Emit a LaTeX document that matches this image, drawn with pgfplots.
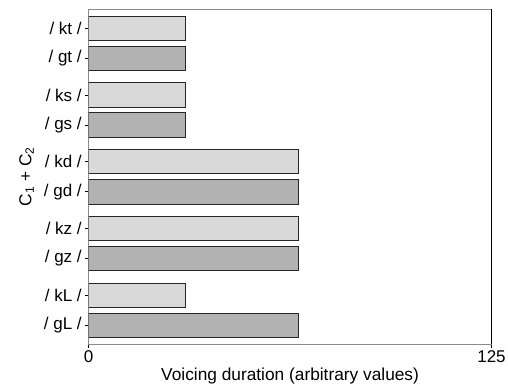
\documentclass[border=0pt]{standalone}
\usepackage{pgfplots}
\pgfplotsset{compat=1.18}
\usepackage{fontspec}
\setmainfont{Liberation Sans}
\definecolor{lightbar}{HTML}{D9D9D9}
\definecolor{darkbar}{HTML}{B2B2B2}
\definecolor{axgray}{HTML}{8A8A8A}
\begin{document}
\begin{tikzpicture}
\useasboundingbox (-88.7pt,-43pt) rectangle (419.3pt,344pt);
\begin{axis}[
  at={(0,0)}, anchor=south west,
  scale only axis,
  width=402.8pt, height=335pt,
  xbar, bar shift=0pt, bar width=0.81,
  xmin=0, xmax=125,
  ymin=-0.64, ymax=10.5,
  y dir=reverse,
  xtick={0,125},
  ytick={0,1,2.22,3.22,4.44,5.44,6.66,7.66,8.88,9.88},
  yticklabels={/ kt /, / gt /, / ks /, / gs /, / kd /, / gd /, / kz /, / gz /, / kL /, / gL /},
  tick align=outside,
  major tick length=3.5pt,
  tick style={black, line width=0.7pt},
  xtick pos=bottom, ytick pos=left,
  axis line style={axgray, line width=0.9pt},
  every tick label/.append style={font=\fontsize{17}{19}\selectfont},
  yticklabel style={xshift=0pt},
  /pgf/number format/assume math mode=true,
  xlabel={Voicing duration (arbitrary values)},
  ylabel={C\textsubscript{1} + C\textsubscript{2}},
  label style={font=\fontsize{17.3}{19}\selectfont},
  xlabel style={yshift=1.5pt},
  ylabel style={yshift=3pt},
  after end axis/.code={\draw[black, line width=0.9pt] (rel axis cs:1,0) -- (rel axis cs:1,1);},
]
\addplot[draw=black!85, line width=0.9pt, fill=lightbar] coordinates {(30,0) (30,2.22) (65,4.44) (65,6.66) (30,8.88)};
\addplot[draw=black!85, line width=0.9pt, fill=darkbar] coordinates {(30,1) (30,3.22) (65,5.44) (65,7.66) (65,9.88)};
\end{axis}
\end{tikzpicture}
\end{document}
